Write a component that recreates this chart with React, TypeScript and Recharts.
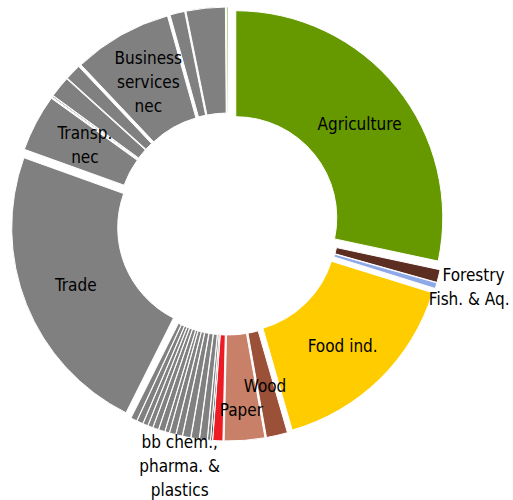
import React from 'react';
import { PieChart, Pie, Cell } from 'recharts';

// sector names, shares (%) and colours, clockwise from 12 o'clock
const sectors = [
  'Agriculture', 'Forestry', 'Fish. & Aq.', 'Food ind.', 'Wood', 'Paper',
  'bb chem., pharma. & plastics', 'Other bb',
  'Other 1', 'Other 2', 'Other 3', 'Other 4', 'Other 5', 'Other 6', 'Other 7',
  'Other 8', 'Other 9', 'Other 10', 'Other 11', 'Other 12', 'Other 13',
  'Trade', 'Transp. nec', 'Water transp.', 'Air transp.', 'Communication',
  'Business services nec', 'Financial services', 'Public services', 'Dwellings',
];

const shares = [
  28.3, 1.0, 0.45, 15.7, 1.65, 3.15,
  0.78, 0.14,
  0.24, 0.59, 0.63, 0.63, 0.49, 0.49, 0.34,
  0.49, 0.44, 0.39, 0.39, 0.49, 0.49,
  23.05, 4.45, 0.1, 1.65, 1.25,
  7.7, 1.15, 3.05, 0.12,
];

const GRAY = '#808080';
const colors = [
  '#669900', '#5c2e22', '#8ea9e8', '#ffcc00', '#9b5038', '#c98068',
  '#ed1c24', '#1a1a1a',
  GRAY, GRAY, GRAY, GRAY, GRAY, GRAY, GRAY,
  GRAY, GRAY, GRAY, GRAY, GRAY, GRAY,
  GRAY, GRAY, GRAY, GRAY, GRAY,
  GRAY, GRAY, GRAY, '#669900',
];

// label placement: distance from slice centre, anchor, nudges
const labels: Record<string, { r: number; anchor: 'start' | 'middle'; dx?: number; dy?: number; lines: string[] }> = {
  'Agriculture': { r: 154, anchor: 'middle', dx: 4, dy: 3, lines: ['Agriculture'] },
  'Forestry': { r: 212, anchor: 'start', dx: -1, dy: -2, lines: ['Forestry'] },
  'Fish. & Aq.': { r: 212, anchor: 'start', dx: -12, dy: 12, lines: ['Fish. & Aq.'] },
  'Food ind.': { r: 154, anchor: 'middle', dy: 5, lines: ['Food ind.'] },
  'Wood': { r: 154, anchor: 'middle', dy: 2, lines: ['Wood'] },
  'Paper': { r: 177, anchor: 'middle', dx: -1, lines: ['Paper'] },
  'bb chem., pharma. & plastics': { r: 210, anchor: 'middle', dx: -38, dy: 22, lines: ['bb chem.,', 'pharma. &', 'plastics'] },
  'Trade': { r: 154, anchor: 'middle', lines: ['Trade'] },
  'Transp. nec': { r: 154, anchor: 'middle', dx: 2, dy: -3, lines: ['Transp.', 'nec'] },
  'Business services nec': { r: 154, anchor: 'middle', dx: 1, dy: 1, lines: ['Business', 'services', 'nec'] },
};

const CX = 228;
const CY = 224;
const OUTER = 207;
const INNER = 101;
const EXPLODE = 10;
const LINE = 24;
const FONT = "'DejaVu Sans Condensed', 'DejaVu Sans', sans-serif";

const total = shares.reduce((a, b) => a + b, 0);
let acc = 0;
const slices = sectors.map((name, i) => {
  const a0 = (acc / total) * 360;
  acc += shares[i];
  const a1 = (acc / total) * 360;
  const mid = (((a0 + a1) / 2) * Math.PI) / 180;
  return {
    name,
    value: shares[i],
    color: colors[i],
    start: 90 - a0,
    end: 90 - a1,
    cx: CX + EXPLODE * Math.sin(mid),
    cy: CY - EXPLODE * Math.cos(mid),
  };
});

const renderLabel = (props: any) => {
  const { cx, cy, midAngle, index } = props;
  const name = props.name ?? props.payload?.name;
  const cfg = labels[name];
  if (!cfg) return null;
  const rad = (-midAngle * Math.PI) / 180;
  const x = cx + cfg.r * Math.cos(rad) + (cfg.dx ?? 0);
  const y = cy + cfg.r * Math.sin(rad) + (cfg.dy ?? 0);
  const top = y - ((cfg.lines.length - 1) * LINE) / 2;
  return (
    <text key={`lbl-${name}-${index}`} x={x} y={top} textAnchor={cfg.anchor} fill="#000" fontSize={17} fontFamily={FONT}>
      {cfg.lines.map((ln, j) => (
        <tspan key={j} x={x} y={top + j * LINE} dominantBaseline="central">{ln}</tspan>
      ))}
    </text>
  );
};

const App: React.FC = () => {
  return (
    <div style={{ position: 'absolute', left: 0, top: 0, width: 513, height: 500, background: '#fff' }}>
      <PieChart width={513} height={500} margin={{ top: 0, right: 0, bottom: 0, left: 0 }}>
        {slices.map((s) => (
          <Pie
            key={s.name}
            data={[s]}
            dataKey="value"
            nameKey="name"
            cx={s.cx}
            cy={s.cy}
            innerRadius={INNER}
            outerRadius={OUTER}
            startAngle={s.start}
            endAngle={s.end}
            stroke="#fff"
            strokeWidth={1}
            isAnimationActive={false}
          >
            <Cell fill={s.color} />
          </Pie>
        ))}
        {slices.filter((s) => labels[s.name]).map((s) => (
          <Pie
            key={`label-${s.name}`}
            data={[s]}
            dataKey="value"
            nameKey="name"
            cx={s.cx}
            cy={s.cy}
            innerRadius={INNER}
            outerRadius={OUTER}
            startAngle={s.start}
            endAngle={s.end}
            stroke="none"
            label={renderLabel}
            labelLine={false}
            isAnimationActive={false}
          >
            <Cell fill="none" />
          </Pie>
        ))}
      </PieChart>
    </div>
  );
};

export default App;
